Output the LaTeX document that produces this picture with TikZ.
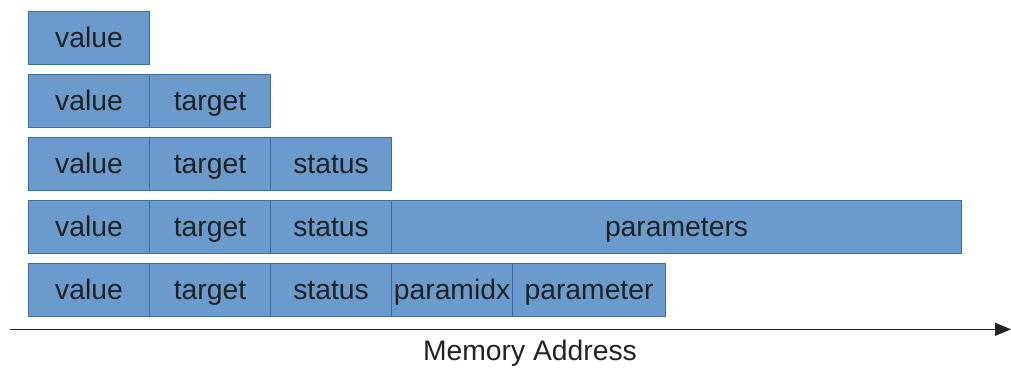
\documentclass[tikz,border=0pt]{standalone}
\usepackage{fontspec}
\setmainfont{Liberation Sans}
\usetikzlibrary{arrows.meta}
\definecolor{cellfill}{HTML}{6A9BCC}
\definecolor{celledge}{HTML}{3A6EA8}
\definecolor{ink}{HTML}{222222}
\begin{document}
\begin{tikzpicture}[x=1bp,y=-1bp,
  cell/.style={draw=celledge,fill=cellfill,line width=1.1bp,anchor=north west,
    minimum height=53bp,inner sep=0pt,text=ink,text height=19.6bp,text depth=0pt,
    font=\fontsize{28.4}{34}\selectfont},
  w/.style={minimum width=#1 bp}]
\useasboundingbox (0,0) rectangle (1011,367);
% row 1
\node[cell,w=121] (a1) at (28,11) {value};
% row 2
\node[cell,w=121] (b1) at (28,74) {value};
\node[cell,w=121] (b2) at (149,74) {target};
% row 3
\node[cell,w=121] (c1) at (28,137) {value};
\node[cell,w=121] (c2) at (149,137) {target};
\node[cell,w=121] (c3) at (270,137) {status};
% row 4
\node[cell,w=121] (d1) at (28,200) {value};
\node[cell,w=121] (d2) at (149,200) {target};
\node[cell,w=121] (d3) at (270,200) {status};
\node[cell,w=570] (d4) at (391,200) {parameters};
% row 5
\node[cell,w=121] (e1) at (28,263) {value};
\node[cell,w=121] (e2) at (149,263) {target};
\node[cell,w=121] (e3) at (270,263) {status};
\node[cell,w=121] (e4) at (391,263) {paramidx};
\node[cell,w=153] (e5) at (512,263) {parameter};
% address axis
\coordinate (axs) at (10,329.3);
\coordinate (axe) at (1011,329.3);
\draw[line width=1.4bp,draw=ink,-{Triangle[length=16bp,width=13bp]}] (axs) -- (axe);
\node[text=ink,font=\fontsize{28.4}{34}\selectfont,anchor=base,inner sep=0pt] (lbl) at (530,360.7) {Memory Address};
\end{tikzpicture}
\end{document}
